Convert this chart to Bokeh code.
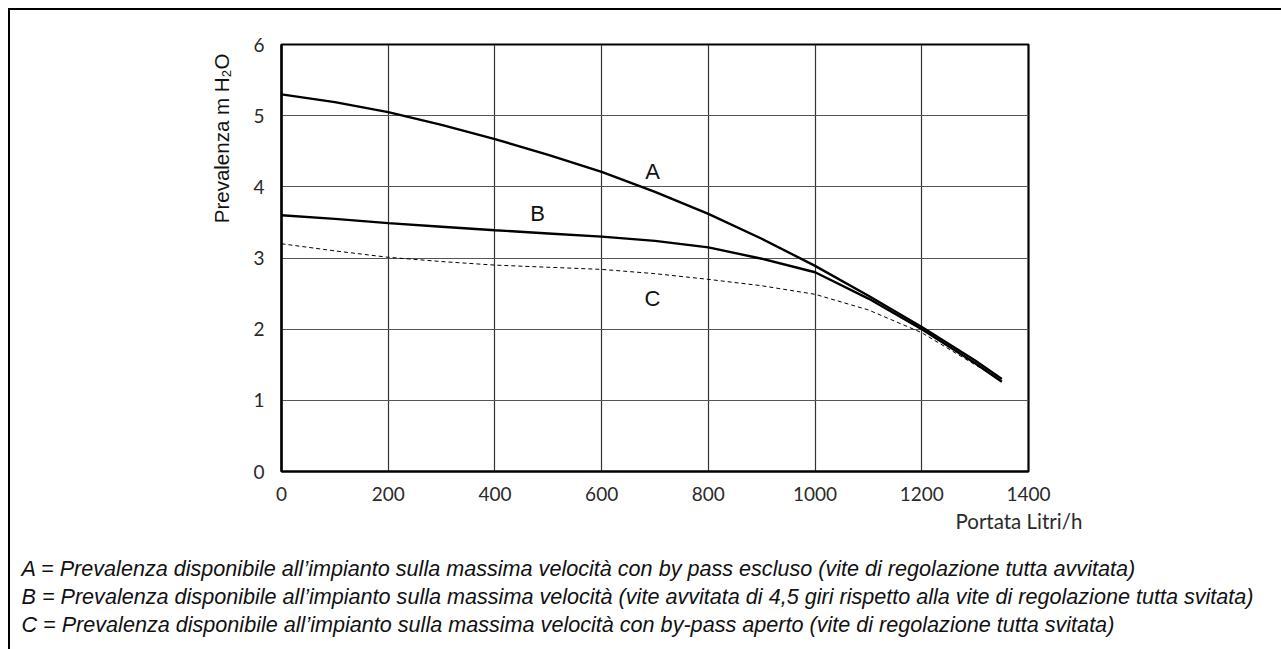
from bokeh.plotting import figure
from bokeh.models import Label, Title, FixedTicker, InlineStyleSheet
from bokeh.embed import file_html
from bokeh.resources import INLINE

# ---- data ----
portata = [0, 100, 200, 300, 400, 500, 600, 700, 800, 900, 1000, 1100, 1200, 1300, 1350]
curve_a = [5.30, 5.19, 5.05, 4.87, 4.67, 4.45, 4.21, 3.93, 3.62, 3.27, 2.89, 2.47, 2.03, 1.56, 1.30]
curve_b = [3.60, 3.55, 3.49, 3.44, 3.39, 3.345, 3.30, 3.24, 3.15, 2.99, 2.80, 2.43, 2.00, 1.52, 1.26]
curve_c = [3.20, 3.10, 3.01, 2.95, 2.90, 2.87, 2.84, 2.78, 2.70, 2.61, 2.49, 2.27, 1.95, 1.50, 1.27]
x_ticks = [0, 200, 400, 600, 800, 1000, 1200, 1400]
y_ticks = [0, 1, 2, 3, 4, 5, 6]
legend_lines = [
    "A =  Prevalenza disponibile all\u2019impianto sulla massima velocit\u00e0 con by pass escluso (vite di regolazione tutta avvitata)",
    "B =  Prevalenza disponibile all\u2019impianto sulla massima  velocit\u00e0 (vite avvitata di 4,5 giri rispetto alla vite di regolazione tutta svitata)",
    "C =  Prevalenza disponibile all\u2019impianto sulla massima  velocit\u00e0 con by-pass aperto (vite di regolazione tutta svitata)",
]
curve_names = ["A", "B", "C"]
y_title = "Prevalenza m H\u2082O"
x_title = "Portata Litri/h"

# ---- geometry ----
OX, OY = 10, 10                      # canvas origin on the page (inside the frame edge)
W, H = 1281 - OX, 649 - OY
FL, FT, FW, FH = 281 - OX, 44 - OY, 747, 427
XMAX, YMAX = 1400, 6


def dx(px):
    return (px - OX - FL) / FW * XMAX


def dy(py):
    return (OY + FT + FH - py) / FH * YMAX


p = figure(output_backend="svg", toolbar_location=None,
           x_range=(0, XMAX), y_range=(0, YMAX),
           frame_width=FW, frame_height=FH,
           min_border_left=FL, min_border_top=FT,
           min_border_right=W - FL - FW, min_border_bottom=H - FT - FH)
p.background_fill_color = "white"
p.border_fill_color = None
p.outline_line_color = "black"
p.outline_line_width = 2.2
# page frame: top and left edges only
p.stylesheets = [InlineStyleSheet(css=(
    ":host {"
    " border-top: 2.5px solid #000;"
    " border-left: 2.5px solid #000;"
    " margin-top: 7.5px;"
    " margin-left: 7.5px;"
    "}"))]

for ax in (p.xaxis, p.yaxis):
    ax.axis_line_width = 2.2
    ax.axis_line_color = "black"
    ax.major_tick_line_color = None
    ax.minor_tick_line_color = None
    ax.major_label_text_font = "Lato"
    ax.major_label_text_font_size = "19px"
    ax.major_label_text_color = "#2a2a2a"
p.xaxis.ticker = FixedTicker(ticks=x_ticks)
p.yaxis.ticker = FixedTicker(ticks=y_ticks)
p.xaxis.major_label_standoff = 9
p.yaxis.major_label_standoff = 11

p.xgrid.ticker = FixedTicker(ticks=x_ticks)
p.ygrid.ticker = FixedTicker(ticks=y_ticks)
p.xgrid.grid_line_color = "#333333"
p.ygrid.grid_line_color = "#555555"
p.xgrid.grid_line_width = 1.2
p.ygrid.grid_line_width = 1.2

p.line(portata, curve_a, line_color="black", line_width=2.4)
p.line(portata, curve_b, line_color="black", line_width=2.4)
p.line(portata, curve_c, line_color="black", line_width=1, line_dash="4 3")

# curve letters
for name, (px, py) in zip(curve_names, [(652, 171), (537, 213), (652, 298)]):
    p.add_layout(Label(x=dx(px), y=dy(py), text=name, text_align="center",
                       text_baseline="middle", text_font="Liberation Sans",
                       text_font_size="22px", text_color="#111111"))

# y axis title (left panel, rotated, aligned to top)
p.add_layout(Title(text=y_title, align="right", offset=9, vertical_align="bottom",
                   standoff=36, text_font="Liberation Sans", text_font_size="20.5px",
                   text_font_style="normal", text_color="#111111"), "left")

# x axis title
p.add_layout(Title(text=x_title, align="left", offset=955 - OX - FL, vertical_align="middle",
                   standoff=9, text_font="Lato", text_font_size="20.5px",
                   text_font_style="normal", text_color="#2a2a2a"), "below")

# explanatory lines
p.add_layout(Title(text="\n".join(legend_lines), align="left", offset=21 - OX - FL,
                   vertical_align="top", standoff=34, text_font="Liberation Sans",
                   text_font_size="21.6px", text_font_style="italic",
                   text_line_height=1.12, text_color="#111111"), "below")

open("out.html", "w").write(file_html(p, INLINE))
